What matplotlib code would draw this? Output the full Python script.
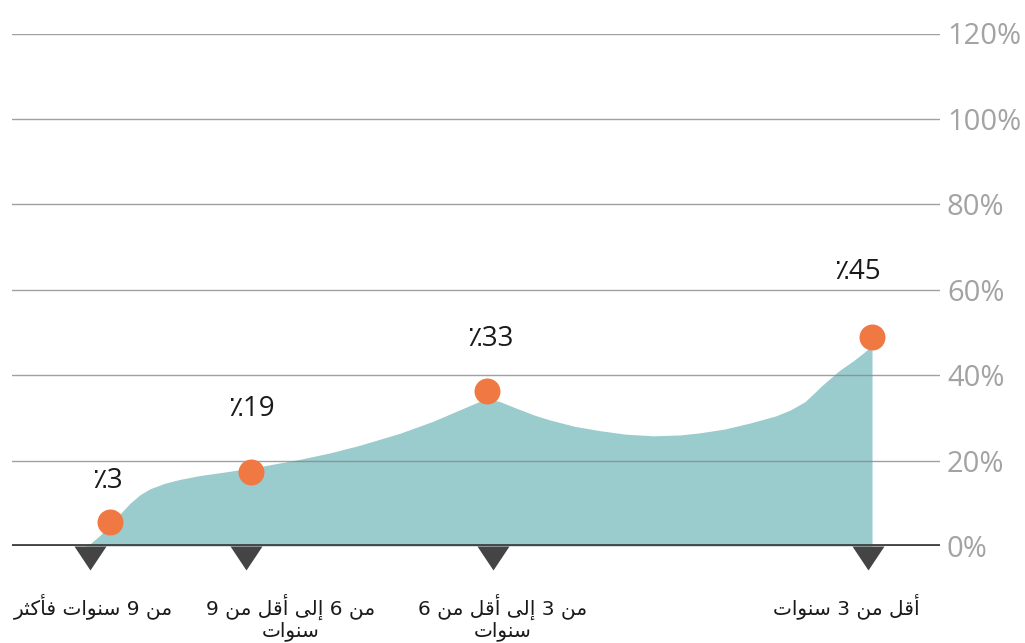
import matplotlib
matplotlib.use('Agg')
import matplotlib.pyplot as plt
from matplotlib.ticker import FuncFormatter

# categories (logical Arabic order), right-to-left display handled below
categories = ['من 9 سنوات فأكثر', 'من 6 إلى أقل من 9\nسنوات',
              'من 3 إلى أقل من 6\nسنوات', 'أقل من 3 سنوات']
labels = [3, 19, 33, 45]                 # printed values
dot_values = [5.6, 17.3, 36.2, 49.0]     # where the dots sit on the chart
tick_values = [0, 20, 40, 60, 80, 100, 120]

# x positions on a 12..940 scale
cat_x = [90, 246, 493, 868]
dot_x = [110, 251, 487, 872]
label_x = [-3, 1, 3, -15]    # px offset of value labels from the dots
label_up = [41, 63, 52, 65]  # px above the dots
cat_label_x = [93, 291, 503, 846]

# filled background curve
area_x = [85, 90, 100, 110, 120, 130, 140, 150, 165, 180, 200, 227, 260, 300,
          330, 360, 400, 433, 467, 487, 500, 517, 535, 550, 575, 600, 625,
          653, 680, 700, 725, 750, 775, 790, 805, 815, 823, 840, 853, 865,
          872, 872]
area_y = [0, 0.5, 2.5, 5.0, 7.5, 10.0, 12.0, 13.4, 14.7, 15.6, 16.5, 17.4,
          18.6, 20.3, 21.8, 23.6, 26.4, 29.2, 32.6, 34.6, 33.8, 32.2, 30.6,
          29.5, 28.0, 27.0, 26.2, 25.8, 26.0, 26.5, 27.4, 28.8, 30.4, 31.8,
          33.8, 36.0, 37.8, 41.2, 43.3, 45.5, 47.0, 0]

# Arabic presentation forms: isolated, final, initial, medial
FORMS = {
    'ا': ('\uFE8D', '\uFE8E', None, None),
    'أ': ('\uFE83', '\uFE84', None, None),
    'إ': ('\uFE87', '\uFE88', None, None),
    'ت': ('\uFE95', '\uFE96', '\uFE97', '\uFE98'),
    'ث': ('\uFE99', '\uFE9A', '\uFE9B', '\uFE9C'),
    'ر': ('\uFEAD', '\uFEAE', None, None),
    'س': ('\uFEB1', '\uFEB2', '\uFEB3', '\uFEB4'),
    'ف': ('\uFED1', '\uFED2', '\uFED3', '\uFED4'),
    'ق': ('\uFED5', '\uFED6', '\uFED7', '\uFED8'),
    'ك': ('\uFED9', '\uFEDA', '\uFEDB', '\uFEDC'),
    'ل': ('\uFEDD', '\uFEDE', '\uFEDF', '\uFEE0'),
    'م': ('\uFEE1', '\uFEE2', '\uFEE3', '\uFEE4'),
    'ن': ('\uFEE5', '\uFEE6', '\uFEE7', '\uFEE8'),
    'و': ('\uFEED', '\uFEEE', None, None),
    'ى': ('\uFEEF', '\uFEF0', None, None),
}


def shape_line(text):
    out = []
    for i, ch in enumerate(text):
        if ch not in FORMS:
            out.append(ch)
            continue
        iso, fin, ini, med = FORMS[ch]
        prev = text[i - 1] if i > 0 else ''
        nxt = text[i + 1] if i + 1 < len(text) else ''
        jp = prev in FORMS and FORMS[prev][2] is not None
        jn = ini is not None and nxt in FORMS
        if jp and jn:
            out.append(med)
        elif jp:
            out.append(fin)
        elif jn:
            out.append(ini)
        else:
            out.append(iso)
    return ''.join(out)[::-1]


def shape(text):
    return '\n'.join(shape_line(l) for l in text.split('\n'))


W, H = 1025, 643
fig = plt.figure(figsize=(W / 100, H / 100), dpi=100)
y0, y120 = 546, 33.5
ax = fig.add_axes([12 / W, (H - y0) / H, 928 / W, (y0 - y120) / H])
ax.set_xlim(12, 940)
ax.set_ylim(0, 120)
for s in ax.spines.values():
    s.set_visible(False)

ax.fill_between(area_x, area_y, 0, color='#9acbcd', lw=0, zorder=1)

ax.set_axisbelow(False)
ax.yaxis.tick_right()
ax.set_yticks(tick_values)
ax.yaxis.set_major_formatter(FuncFormatter(lambda v, p: f'{v:.0f}%'))
ax.tick_params(axis='y', length=0, pad=5, labelsize=21, labelcolor='#a3a3a3')
for t in ax.get_yticklabels():
    t.set_family(['Open Sans', 'DejaVu Sans'])
ax.set_xticks([])
ax.grid(axis='y', color='#888888', alpha=0.8, lw=1)

ax.axhline(0, color='#444444', lw=3.5, zorder=2.6)

tri = [(-16, 0), (16, 0), (0, -24)]
ax.scatter(cat_x, [0] * len(cat_x), marker=tri, s=1194, color='#444444',
           lw=0, clip_on=False, zorder=2.7)

ax.scatter(dot_x, dot_values, s=350, color='#f07842', lw=0, zorder=4)

for x, v, lab, dx, up in zip(dot_x, dot_values, labels, label_x, label_up):
    ax.annotate(f'٪{lab}', (x, v), xytext=(dx * 0.72, up * 0.72),
                textcoords='offset points', ha='center', va='center',
                fontsize=20, color='#1a1a1a',
                family=['Open Sans', 'DejaVu Sans'])

for x, c in zip(cat_label_x, categories):
    ax.annotate(shape(c), (x, 0), xytext=(0, -34), textcoords='offset points',
                ha='center', va='top', fontsize=14.5, color='#1a1a1a',
                family='DejaVu Sans', linespacing=1.1, annotation_clip=False)

fig.savefig('out.png', dpi=100)
